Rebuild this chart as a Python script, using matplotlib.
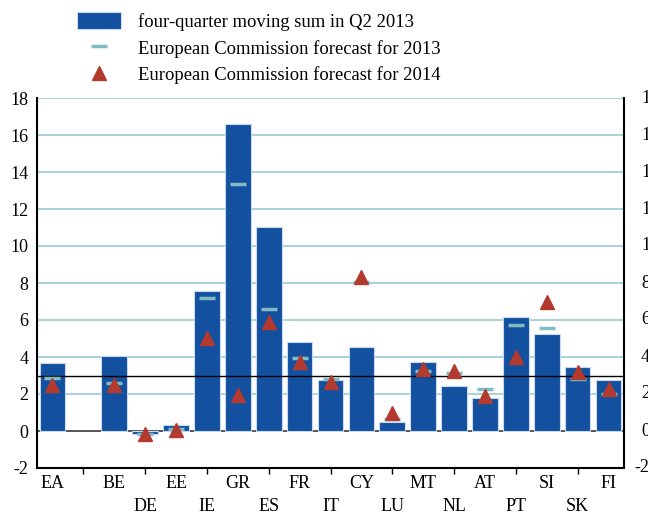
import matplotlib
matplotlib.use("Agg")
import matplotlib.pyplot as plt
import matplotlib.transforms as mtransforms
from matplotlib.patches import Patch
from matplotlib.lines import Line2D
import numpy as np

plt.rcParams['font.family'] = ['Liberation Serif', 'DejaVu Serif']
plt.rcParams['axes.unicode_minus'] = False

# Country codes (blank slot separates the euro area from the member states)
countries = ["EA", "", "BE", "DE", "EE", "IE", "GR", "ES", "FR", "IT",
             "CY", "LU", "MT", "NL", "AT", "PT", "SI", "SK", "FI"]

# Four-quarter moving sum in Q2 2013 (NaN = no bar)
moving_sum = [3.66, np.nan, 4.08, -0.14, 0.32, 7.56, 16.6, 11.01, 4.83, 2.77,
              4.56, 0.49, 3.74, 2.42, 1.78, 6.14, 5.26, 3.45, 2.77]

# European Commission forecasts
forecast_2013 = [2.89, np.nan, 2.59, -0.18, 0.13, 7.17, 13.33, 6.57, 3.93, 2.80,
                 8.05, 0.65, 3.23, 3.13, 2.28, 5.73, 5.55, 2.80, 2.00]
forecast_2014 = [2.5, np.nan, 2.5, -0.16, 0.03, 5.01, 1.94, 5.89, 3.75, 2.66,
                 8.33, 0.95, 3.36, 3.27, 1.89, 4.00, 7.00, 3.18, 2.25]

yticks = list(range(-2, 19, 2))

bar_color = "#1450a0"
dash_color = "#7fbcc2"
tri_color = "#b23a2f"
grid_color = "#a9d3d8"
fs = 13

fig = plt.figure(figsize=(6.48, 5.13), dpi=100)
ax = fig.add_axes([37 / 648, 45 / 513, 587 / 648, 370 / 513])

x = np.arange(len(countries))

# horizontal grid lines
for v in yticks[2:]:
    ax.axhline(v, color=grid_color, lw=1.4, zorder=0)
ax.axhline(0, color="#555555", lw=1.4, zorder=1)

ax.bar(x, moving_sum, width=0.83, color=bar_color, edgecolor="#c8d8ee",
       linewidth=0.8, zorder=2)
ax.axhline(3, color="black", lw=1.0, zorder=3)
ax.plot(x, forecast_2013, linestyle="none", marker="_", markersize=12,
        markeredgewidth=2.5, color=dash_color, zorder=4)
ax.plot(x, forecast_2014, linestyle="none", marker="^", markersize=10.5,
        color=tri_color, markeredgecolor=tri_color, zorder=5)

ax.set_xlim(-0.5, len(countries) - 0.5)
ax.set_ylim(-2, 18)

# category labels on two rows: even positions on top, odd below
even = x[::2]
odd = x[1::2]
ax.set_xticks(even, [countries[i] for i in even])
ax.set_xticks(odd, [countries[i] for i in odd], minor=True)
ax.tick_params(axis="x", which="major", length=0, pad=5, labelsize=fs)
ax.tick_params(axis="x", which="minor", length=4, width=1, pad=17.5,
               labelsize=fs, direction="out")

ax.set_yticks(yticks)
ax.tick_params(axis="y", length=0, labelsize=fs, pad=6)

for s in ("left", "right", "bottom"):
    ax.spines[s].set_linewidth(1.5)
ax.spines["top"].set_visible(False)

# right-hand scale labels
rtrans = mtransforms.blended_transform_factory(ax.transAxes, ax.transData)
for v in yticks:
    xoff = 10 / 587 if v < 0 else 17 / 587
    ax.text(1 + xoff, v, str(v), transform=rtrans, ha="left", va="center",
            fontsize=fs, clip_on=False)

handles = [
    Patch(facecolor=bar_color, edgecolor="#c8d8ee", linewidth=0.8),
    Line2D([], [], linestyle="none", marker="_", markersize=12,
           markeredgewidth=2.5, color=dash_color),
    Line2D([], [], linestyle="none", marker="^", markersize=10.5,
           color=tri_color),
]
labels = ["four-quarter moving sum in Q2 2013",
          "European Commission forecast for 2013",
          "European Commission forecast for 2014"]
fig.legend(handles, labels, loc="upper left", bbox_to_anchor=(70 / 648, 1 - 5 / 513),
           frameon=False, fontsize=13.4, handlelength=2.35, handleheight=1.0,
           handletextpad=0.9, labelspacing=0.42, borderaxespad=0)

fig.savefig("out.png", dpi=100)
